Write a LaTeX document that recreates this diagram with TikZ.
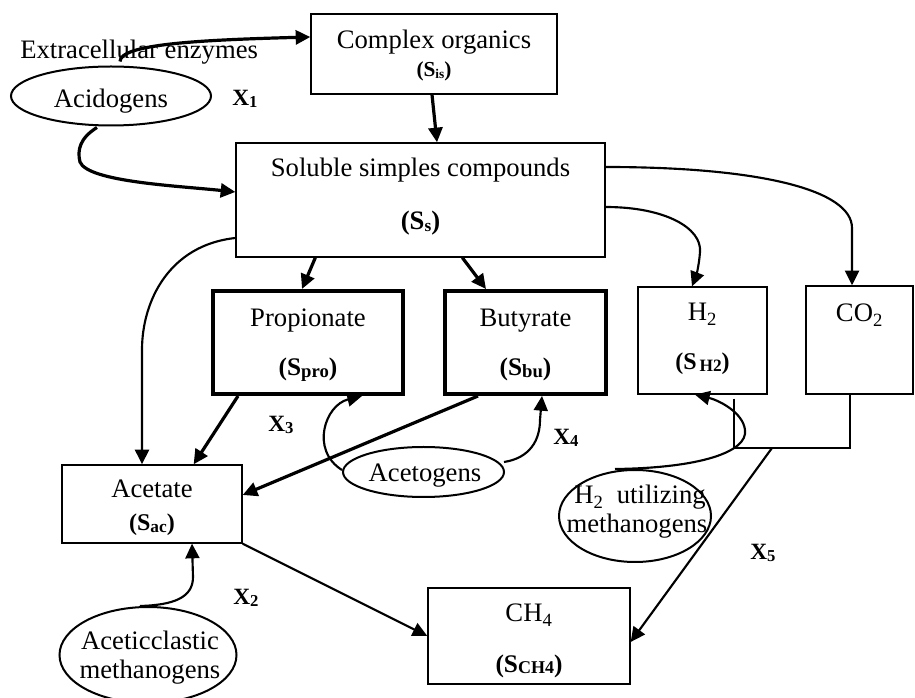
\documentclass[tikz,border=0pt]{standalone}
\usepackage{fontspec}
\setmainfont{Liberation Serif}
\usetikzlibrary{arrows.meta,shapes.geometric,calc}
\newcommand\lowtxt[2]{\raisebox{-0.8pt}{\fontsize{#1}{#1}\selectfont #2}}
\newcommand\symlbl[3]{\textbf{\fontsize{#1}{#1}\selectfont(S\lowtxt{#2}{#3})}}
\begin{document}
\begin{tikzpicture}[x=0.75pt,y=-0.75pt,
  box/.style={draw, line width=1pt, inner sep=0, rectangle},
  boldbox/.style={draw, line width=3pt, inner sep=0, rectangle},
  oval/.style={draw, ellipse, line width=1.5pt, inner sep=0},
  txt/.style={inner sep=0, anchor=base, font=\fontsize{20}{24}\selectfont},
  lbl/.style={inner sep=0, anchor=base west, font=\fontsize{17.5}{20}\selectfont\bfseries},
  tip/.style={-{Triangle[length=11pt,width=10.5pt]}},
  heavy/.style={tip, line width=2.4pt},
  light/.style={tip, line width=1.6pt},
  plain/.style={line width=1.6pt}
]
\useasboundingbox (0,0) rectangle (915,698);

% boxes
\node[box, minimum width=184.5pt, minimum height=60pt] (cx) at (434,54) {};
\node[box, minimum width=276.75pt, minimum height=85.5pt] (ss) at (420.5,200) {};
\node[boldbox, minimum width=142.5pt, minimum height=77.25pt] (pro) at (308,342.5) {};
\node[boldbox, minimum width=120.75pt, minimum height=77.25pt] (bu) at (525.5,342.5) {};
\node[box, minimum width=96.75pt, minimum height=80.25pt] (h2) at (702.5,340.5) {};
\node[box, minimum width=80.25pt, minimum height=81pt] (co2) at (859.5,340) {};
\node[box, minimum width=135pt, minimum height=58.5pt] (ac) at (152,504) {};
\node[box, minimum width=151.5pt, minimum height=72pt] (ch4) at (529,636) {};

% ellipses
\node[oval, minimum width=150pt, minimum height=44.25pt] (acid) at (111,96) {};
\node[oval, minimum width=120.75pt, minimum height=37.5pt] (acet) at (423.5,472) {};
\node[oval, minimum width=114pt, minimum height=69pt] (h2m) at (635,516) {};
\node[oval, minimum width=132.75pt, minimum height=72pt] (acm) at (148,655) {};

% texts
\node[txt] (cxa) at (434,49) {Complex organics};
\node[txt] (cxb) at (434,77) {\symlbl{16}{10}{is}};
\node[txt] (ssa) at (420.5,177) {Soluble simples compounds};
\node[txt] (ssb) at (420.5,230) {\symlbl{20}{13}{s}};
\node[txt] (proa) at (308,327) {Propionate};
\node[txt] (prob) at (308,376) {\symlbl{19}{14}{pro}};
\node[txt] (bua) at (525.5,327) {Butyrate};
\node[txt] (bub) at (525.5,376) {\symlbl{19}{14}{bu}};
\node[txt] (h2a) at (702.5,321) {H\textsubscript{2}};
\node[txt] (h2b) at (702.5,370) {\symlbl{18}{13}{\,H2}};
\node[txt] (co2a) at (859.5,322) {CO\textsubscript{2}};
\node[txt] (aca) at (152,498) {Acetate};
\node[txt] (acb) at (152,531) {\symlbl{18}{13}{ac}};
\node[txt] (ch4a) at (529,622) {CH\textsubscript{4}};
\node[txt] (ch4b) at (529,672) {\symlbl{19}{13.5}{CH4}};
\node[txt] (acidt) at (111,108) {Acidogens};
\node[txt] (acett) at (425,482) {Acetogens};
\node[txt] (h2ma) at (640,504) {H\textsubscript{2}\ \ utilizing};
\node[txt] (h2mb) at (637,533) {methanogens};
\node[txt] (acma) at (150,650) {Aceticclastic};
\node[txt] (acmb) at (150,679) {methanogens};
\node[txt, anchor=base west] (enz) at (20,59) {Extracellular enzymes};
\node[lbl] (x1) at (232,106) {X\lowtxt{12.5}{1}};
\node[lbl] (x3) at (268,432) {X\lowtxt{12.5}{3}};
\node[lbl] (x4) at (553,445) {X\lowtxt{12.5}{4}};
\node[lbl] (x2) at (233,605) {X\lowtxt{12.5}{2}};
\node[lbl] (x5) at (750,560) {X\lowtxt{12.5}{5}};

% connectors
\draw[heavy] ($(acid.north)+(9,-4)$) .. controls (120,44) and (200,40) .. ($(cx.west)+(0,-17)$);
\draw[heavy] ($(acid.south)+(-14,1)$) .. controls (80,138) and (77,150) .. (80,162)
   .. controls (88,182) and (180,186) .. ($(ss.west)+(0,-8)$);
\draw[heavy] ($(cx.south)+(-2,0)$) -- ($(ss.north)+(16.5,0)$);
\draw[heavy] ($(ss.south west)+(80,0)$) -- ($(pro.north)+(-6,0)$);
\draw[heavy] ($(ss.south west)+(227,0)$) -- ($(bu.north west)+(43,0)$);
\draw[light] ($(ss.east)+(0,-33)$) .. controls (760,167) and (852,190) .. (852,228) -- ($(co2.north)+(-7.5,0)$);
\draw[light] ($(ss.east)+(0,7)$) .. controls (665,207) and (702,228) .. (700,252)
   .. controls (699,266) and (696,276) .. ($(h2.north)+(-10.5,0)$);
\draw[light] ($(ss.west)+(0,38)$) .. controls (170,245) and (142,300) .. (142,350) -- ($(ac.north)+(-10,0)$);
\draw[heavy] ($(pro.south west)+(27,0)$) -- ($(ac.north east)+(-49,0)$);
\draw[heavy] ($(bu.south west)+(35,0)$) -- ($(ac.east)+(0,-9)$);
\draw[light] ($(acet.west)+(0,-2)$) .. controls (310,450) and (325,405) .. ($(pro.south east)+(-43,0)$);
\draw[light] ($(acet.east)+(-1,-10)$) .. controls (530,458) and (540,440) .. (540,420) -- ($(bu.south east)+(-66,0)$);
\draw[light] ($(h2m.north)+(-20,0)$) .. controls (700,468) and (748,452) .. (745,430)
   .. controls (743,412) and (718,400) .. ($(h2.south)+(-7.5,0)$);
\coordinate (bl) at (734,448);
\coordinate (br) at (850,448);
\coordinate (jn) at (772,448);
\draw[plain] ($(h2.south)+(31.5,4)$) -- (bl) -- (br) -- ($(co2.south)+(-9.5,0)$);
\draw[light] (jn) -- ($(ch4.east)+(0,6)$);
\draw[light] (ac.south east) -- (ch4.west);
\draw[light] ($(acm.north)+(-8,0)$) .. controls (175,605) and (193,597) .. (193,577) -- ($(ac.south)+(40,0)$);
\end{tikzpicture}
\end{document}
